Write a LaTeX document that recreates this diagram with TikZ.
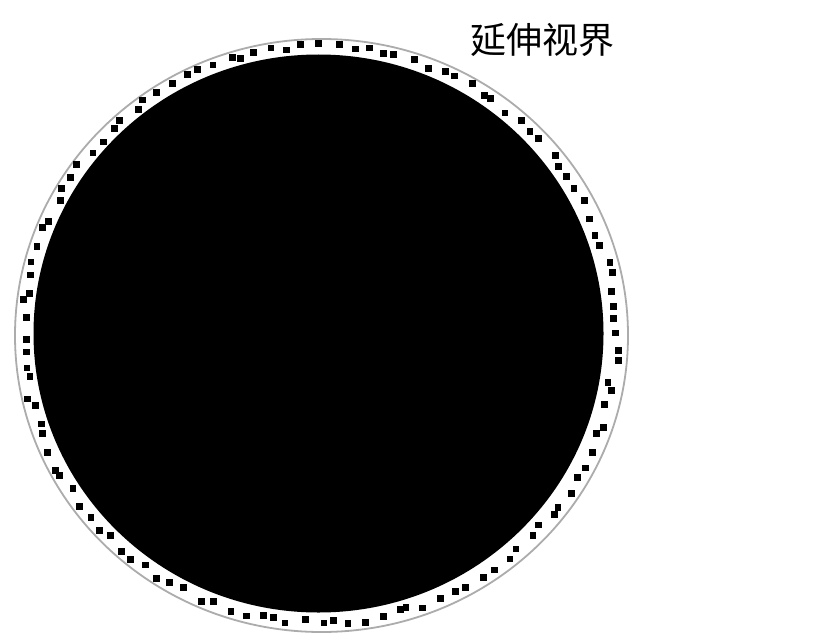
\documentclass[tikz,border=0pt]{standalone}
\usepackage{fontspec}
\newfontfamily\cjk{Noto Sans CJK SC}
\begin{document}
\begin{tikzpicture}[x=1pt,y=-1pt]
\tikzset{dotsq/.style={fill=black}, outerring/.style={draw=gray!65, line width=1.8pt}}
\useasboundingbox[fill=white] (0,0) rectangle (821,642);
\fill[black] (318.5,333.5) ellipse [x radius=285, y radius=279];
\draw[outerring] (321.5,335.5) ellipse [x radius=306.5, y radius=296.5];
\pgfmathsetseed{12}
\foreach \i in {0,...,119}{
  \pgfmathsetmacro\t{\i*3+rnd*2-1}
  \pgfmathsetmacro\f{0.15+0.6*rnd}
  \pgfmathsetmacro\px{320+(290+\f*13)*cos(\t)}
  \pgfmathsetmacro\py{334.5+(284+\f*10)*sin(\t)}
  \fill[dotsq] (\px,\py) +(-3.4,-3.4) rectangle +(3.4,3.4);
}
\node[font=\cjk\fontsize{36}{36}\selectfont, anchor=center, inner sep=0pt] (title) at (542,40) {延伸视界};
\end{tikzpicture}
\end{document}
